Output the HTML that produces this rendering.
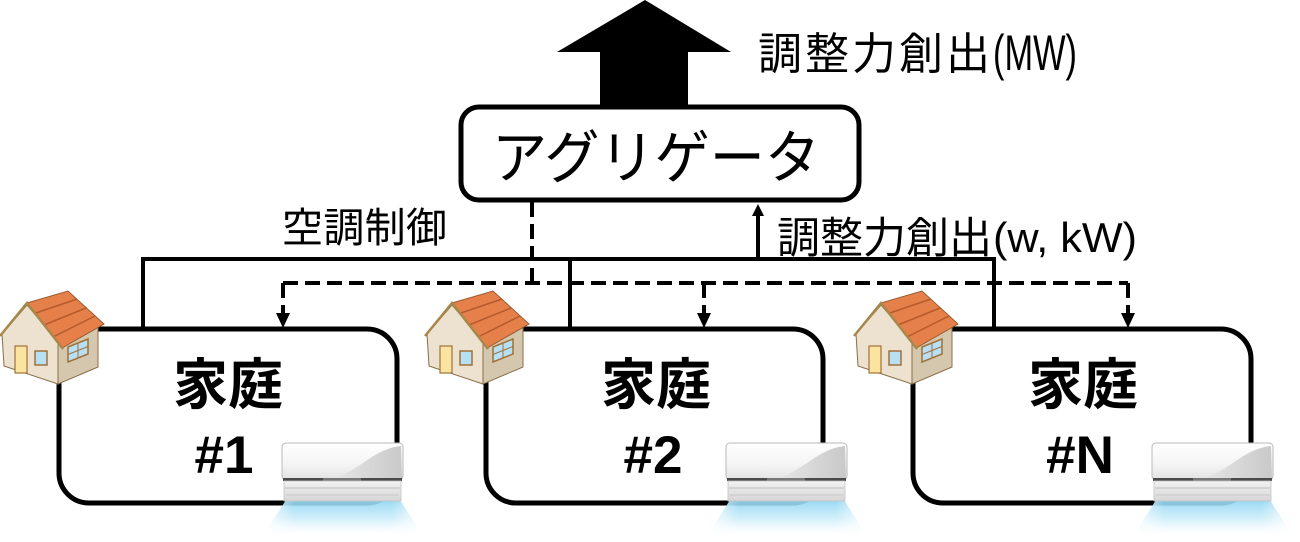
<!DOCTYPE html>
<html>
<head>
<meta charset="utf-8">
<style>
  html, body { margin: 0; padding: 0; background: #fff; }
  svg { display: block; }
  text { font-family: "Liberation Sans", "Noto Sans CJK JP", sans-serif; fill: #000; }
</style>
</head>
<body>
<svg width="1300" height="542" viewBox="0 0 1300 542" xmlns="http://www.w3.org/2000/svg">
  <defs>
    <linearGradient id="acBody" x1="0" y1="0" x2="0" y2="1">
      <stop offset="0" stop-color="#ffffff"/>
      <stop offset="0.6" stop-color="#f4f4f4"/>
      <stop offset="1" stop-color="#e2e2e2"/>
    </linearGradient>
    <linearGradient id="acSwoosh" x1="0" y1="0" x2="1" y2="0">
      <stop offset="0" stop-color="#e8e8e8"/>
      <stop offset="1" stop-color="#c9c9c9"/>
    </linearGradient>
    <linearGradient id="acLow" x1="0" y1="0" x2="0" y2="1">
      <stop offset="0" stop-color="#f2f2f2"/>
      <stop offset="1" stop-color="#d6d6d6"/>
    </linearGradient>
    <linearGradient id="glow" x1="0" y1="0" x2="0" y2="1">
      <stop offset="0" stop-color="#8fd6f3" stop-opacity="0.95"/>
      <stop offset="0.5" stop-color="#bfe8f8" stop-opacity="0.7"/>
      <stop offset="1" stop-color="#ffffff" stop-opacity="0"/>
    </linearGradient>
    <linearGradient id="glowSide" x1="0" y1="0" x2="1" y2="0">
      <stop offset="0" stop-color="#fff" stop-opacity="0.9"/>
      <stop offset="0.2" stop-color="#fff" stop-opacity="0"/>
      <stop offset="0.8" stop-color="#fff" stop-opacity="0"/>
      <stop offset="1" stop-color="#fff" stop-opacity="0.9"/>
    </linearGradient>
  </defs>

  <rect x="0" y="0" width="1300" height="542" fill="#fff"/>

  <!-- Big upward arrow -->
  <polygon points="645,0 731,52 688,52 688,110 600,110 600,52 557,52" fill="#000"/>

  <!-- Aggregator box -->
  <rect x="461" y="107" width="398" height="93" rx="18" ry="18" fill="#fff" stroke="#000" stroke-width="5"/>
  <text x="492" y="178" font-size="58" textLength="328" lengthAdjust="spacingAndGlyphs">アグリゲータ</text>

  <!-- Top label -->
  <text x="758" y="69" font-size="44" textLength="232">調整力創出</text>
  <text x="993" y="70" font-size="50" textLength="84" lengthAdjust="spacingAndGlyphs">(MW)</text>

  <!-- 空調制御 label -->
  <text x="282" y="242" font-size="41" textLength="165">空調制御</text>

  <!-- 調整力創出(w, kW) label -->
  <text x="777" y="253" font-size="43" textLength="215">調整力創出</text>
  <text x="993" y="252" font-size="42" textLength="144" lengthAdjust="spacingAndGlyphs">(w, kW)</text>

  <!-- Solid connectors -->
  <g stroke="#000" stroke-width="4" fill="none">
    <line x1="141" y1="259" x2="996" y2="259"/>
    <line x1="143" y1="257" x2="143" y2="330"/>
    <line x1="570" y1="257" x2="570" y2="330"/>
    <line x1="994" y1="257" x2="994" y2="330"/>
    <line x1="758" y1="259" x2="758" y2="214"/>
  </g>
  <polygon points="758,204 764,216 752,216" fill="#000"/>

  <!-- Dashed connectors -->
  <g stroke="#000" stroke-width="4" fill="none" stroke-dasharray="15 7">
    <line x1="532" y1="202" x2="532" y2="283"/>
    <line x1="283" y1="283" x2="1128" y2="283"/>
    <line x1="283" y1="283" x2="283" y2="313"/>
    <line x1="704" y1="283" x2="704" y2="313"/>
    <line x1="1128" y1="283" x2="1128" y2="313"/>
  </g>
  <polygon points="276,313 290,313 283,328" fill="#000"/>
  <polygon points="697,313 711,313 704,328" fill="#000"/>
  <polygon points="1121,313 1135,313 1128,328" fill="#000"/>

  <!-- Household boxes -->
  <g fill="#fff" stroke="#000" stroke-width="5">
    <rect x="59" y="329" width="338" height="174" rx="30" ry="30"/>
    <rect x="486" y="329" width="337" height="174" rx="30" ry="30"/>
    <rect x="913" y="329" width="338" height="174" rx="30" ry="30"/>
  </g>

  <!-- Box labels -->
  <g font-weight="bold" text-anchor="middle">
    <text x="228" y="404" font-size="55">家庭</text>
    <text x="224" y="473" font-size="53">#1</text>
    <text x="656" y="404" font-size="55">家庭</text>
    <text x="653" y="473" font-size="53">#2</text>
    <text x="1083" y="404" font-size="55">家庭</text>
    <text x="1080" y="473" font-size="53">#N</text>
  </g>

  <!-- Houses -->
  <g>
    <polygon points="2,334 27,305 58,341 58,384 4,366" fill="#ece2cf" stroke="#8a6f48" stroke-width="1"/>
    <polygon points="58,341 98,322 98,367 58,384" fill="#d5c7ad" stroke="#8a6f48" stroke-width="1"/>
    <polygon points="27,303 68,291 104,324 62,348" fill="#e5804a" stroke="#9a5a2e" stroke-width="1"/>
    <line x1="36" y1="313" x2="77" y2="299" stroke="#b65a2c" stroke-width="1.5"/>
    <line x1="44" y1="325" x2="86" y2="308" stroke="#b65a2c" stroke-width="1.5"/>
    <line x1="53" y1="337" x2="95" y2="316" stroke="#b65a2c" stroke-width="1.5"/>
    <polyline points="0,336 27,303 63,349" fill="none" stroke="#a8884a" stroke-width="2.5"/>
    <rect x="15" y="346" width="12" height="27" fill="#fbe3a0" stroke="#a0703a" stroke-width="1.2"/>
    <rect x="35" y="351" width="12" height="14" fill="#b8e0f5" stroke="#a0703a" stroke-width="1.5"/>
    <polygon points="68,347 88,339 88,354 68,362" fill="#b8e0f5" stroke="#a0703a" stroke-width="1.5"/>
    <line x1="78" y1="343" x2="78" y2="358" stroke="#a0703a" stroke-width="1"/>
    <line x1="68" y1="354.5" x2="88" y2="346.5" stroke="#a0703a" stroke-width="1"/>
  </g>
  <g transform="translate(425,0)">
    <polygon points="2,334 27,305 58,341 58,384 4,366" fill="#ece2cf" stroke="#8a6f48" stroke-width="1"/>
    <polygon points="58,341 98,322 98,367 58,384" fill="#d5c7ad" stroke="#8a6f48" stroke-width="1"/>
    <polygon points="27,303 68,291 104,324 62,348" fill="#e5804a" stroke="#9a5a2e" stroke-width="1"/>
    <line x1="36" y1="313" x2="77" y2="299" stroke="#b65a2c" stroke-width="1.5"/>
    <line x1="44" y1="325" x2="86" y2="308" stroke="#b65a2c" stroke-width="1.5"/>
    <line x1="53" y1="337" x2="95" y2="316" stroke="#b65a2c" stroke-width="1.5"/>
    <polyline points="0,336 27,303 63,349" fill="none" stroke="#a8884a" stroke-width="2.5"/>
    <rect x="15" y="346" width="12" height="27" fill="#fbe3a0" stroke="#a0703a" stroke-width="1.2"/>
    <rect x="35" y="351" width="12" height="14" fill="#b8e0f5" stroke="#a0703a" stroke-width="1.5"/>
    <polygon points="68,347 88,339 88,354 68,362" fill="#b8e0f5" stroke="#a0703a" stroke-width="1.5"/>
    <line x1="78" y1="343" x2="78" y2="358" stroke="#a0703a" stroke-width="1"/>
    <line x1="68" y1="354.5" x2="88" y2="346.5" stroke="#a0703a" stroke-width="1"/>
  </g>
  <g transform="translate(854,0)">
    <polygon points="2,334 27,305 58,341 58,384 4,366" fill="#ece2cf" stroke="#8a6f48" stroke-width="1"/>
    <polygon points="58,341 98,322 98,367 58,384" fill="#d5c7ad" stroke="#8a6f48" stroke-width="1"/>
    <polygon points="27,303 68,291 104,324 62,348" fill="#e5804a" stroke="#9a5a2e" stroke-width="1"/>
    <line x1="36" y1="313" x2="77" y2="299" stroke="#b65a2c" stroke-width="1.5"/>
    <line x1="44" y1="325" x2="86" y2="308" stroke="#b65a2c" stroke-width="1.5"/>
    <line x1="53" y1="337" x2="95" y2="316" stroke="#b65a2c" stroke-width="1.5"/>
    <polyline points="0,336 27,303 63,349" fill="none" stroke="#a8884a" stroke-width="2.5"/>
    <rect x="15" y="346" width="12" height="27" fill="#fbe3a0" stroke="#a0703a" stroke-width="1.2"/>
    <rect x="35" y="351" width="12" height="14" fill="#b8e0f5" stroke="#a0703a" stroke-width="1.5"/>
    <polygon points="68,347 88,339 88,354 68,362" fill="#b8e0f5" stroke="#a0703a" stroke-width="1.5"/>
    <line x1="78" y1="343" x2="78" y2="358" stroke="#a0703a" stroke-width="1"/>
    <line x1="68" y1="354.5" x2="88" y2="346.5" stroke="#a0703a" stroke-width="1"/>
  </g>

  <!-- Air conditioners -->
  <g>
    <polygon points="286,500 400,500 424,538 262,538" fill="url(#glow)"/>
    <polygon points="286,500 400,500 424,538 262,538" fill="url(#glowSide)"/>
    <rect x="282" y="443" width="121" height="37" rx="4" fill="url(#acBody)" stroke="#b8b8b8" stroke-width="1"/>
    <path d="M330 479 C 360 472, 372 449, 401 446 L 402 479 Z" fill="url(#acSwoosh)"/>
    <rect x="283" y="478" width="119" height="3" fill="#4a4a4a"/>
    <rect x="323" y="478" width="38" height="3" fill="#777"/>
    <rect x="284" y="481" width="117" height="20" fill="url(#acLow)" stroke="#c4c4c4" stroke-width="0.8"/>
    <line x1="285" y1="488" x2="400" y2="488" stroke="#bdbdbd" stroke-width="1"/>
    <line x1="286" y1="495" x2="399" y2="495" stroke="#c8c8c8" stroke-width="1"/>
  </g>
  <g transform="translate(444,0)">
    <polygon points="286,500 400,500 424,538 262,538" fill="url(#glow)"/>
    <polygon points="286,500 400,500 424,538 262,538" fill="url(#glowSide)"/>
    <rect x="282" y="443" width="121" height="37" rx="4" fill="url(#acBody)" stroke="#b8b8b8" stroke-width="1"/>
    <path d="M330 479 C 360 472, 372 449, 401 446 L 402 479 Z" fill="url(#acSwoosh)"/>
    <rect x="283" y="478" width="119" height="3" fill="#4a4a4a"/>
    <rect x="323" y="478" width="38" height="3" fill="#777"/>
    <rect x="284" y="481" width="117" height="20" fill="url(#acLow)" stroke="#c4c4c4" stroke-width="0.8"/>
    <line x1="285" y1="488" x2="400" y2="488" stroke="#bdbdbd" stroke-width="1"/>
    <line x1="286" y1="495" x2="399" y2="495" stroke="#c8c8c8" stroke-width="1"/>
  </g>
  <g transform="translate(870,0)">
    <polygon points="286,500 400,500 424,538 262,538" fill="url(#glow)"/>
    <polygon points="286,500 400,500 424,538 262,538" fill="url(#glowSide)"/>
    <rect x="282" y="443" width="121" height="37" rx="4" fill="url(#acBody)" stroke="#b8b8b8" stroke-width="1"/>
    <path d="M330 479 C 360 472, 372 449, 401 446 L 402 479 Z" fill="url(#acSwoosh)"/>
    <rect x="283" y="478" width="119" height="3" fill="#4a4a4a"/>
    <rect x="323" y="478" width="38" height="3" fill="#777"/>
    <rect x="284" y="481" width="117" height="20" fill="url(#acLow)" stroke="#c4c4c4" stroke-width="0.8"/>
    <line x1="285" y1="488" x2="400" y2="488" stroke="#bdbdbd" stroke-width="1"/>
    <line x1="286" y1="495" x2="399" y2="495" stroke="#c8c8c8" stroke-width="1"/>
  </g>
</svg>
</body>
</html>
